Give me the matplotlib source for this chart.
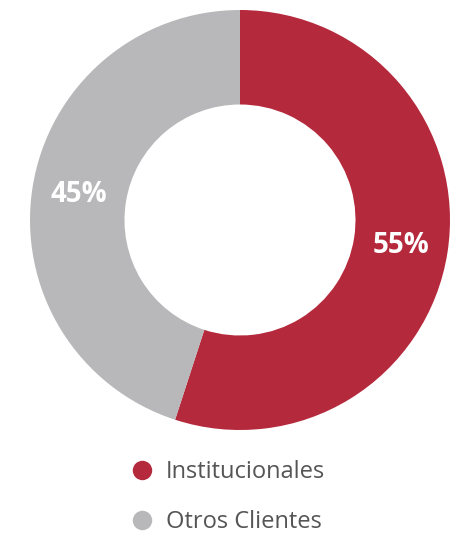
import matplotlib.pyplot as plt
from matplotlib.lines import Line2D

# Data
labels = ['Institucionales', 'Otros Clientes']
values = [55, 45]
colors = ['#B5293C', '#B8B8BA']

plt.rcParams['font.family'] = ['Open Sans', 'DejaVu Sans']

W, H = 457, 538
fig = plt.figure(figsize=(W / 100, H / 100), dpi=100)
ax = fig.add_axes([30 / W, (H - 430) / H, 420 / W, 420 / H])

wedges, texts, autotexts = ax.pie(
    values, colors=colors, startangle=90, counterclock=False,
    radius=1.0, wedgeprops=dict(width=0.45, edgecolor='none'),
    autopct='%d%%', pctdistance=0.775,
    textprops=dict(color='white', fontsize=20, fontweight='bold'))
ax.set_xlim(-1, 1)
ax.set_ylim(-1, 1)
ax.set_aspect('equal')
ax.axis('off')

handles = [Line2D([0], [0], marker='o', linestyle='none', markersize=14,
                  markerfacecolor=c, markeredgecolor='none') for c in colors]
leg = fig.legend(handles, labels, loc='upper left',
                 bbox_to_anchor=(128 / W, (H - 460) / H),
                 frameon=False, fontsize=17, labelcolor='#555555',
                 handletextpad=0.4, labelspacing=1.1, handlelength=1.2,
                 borderaxespad=0, borderpad=0)

fig.savefig('out.png', dpi=100)
